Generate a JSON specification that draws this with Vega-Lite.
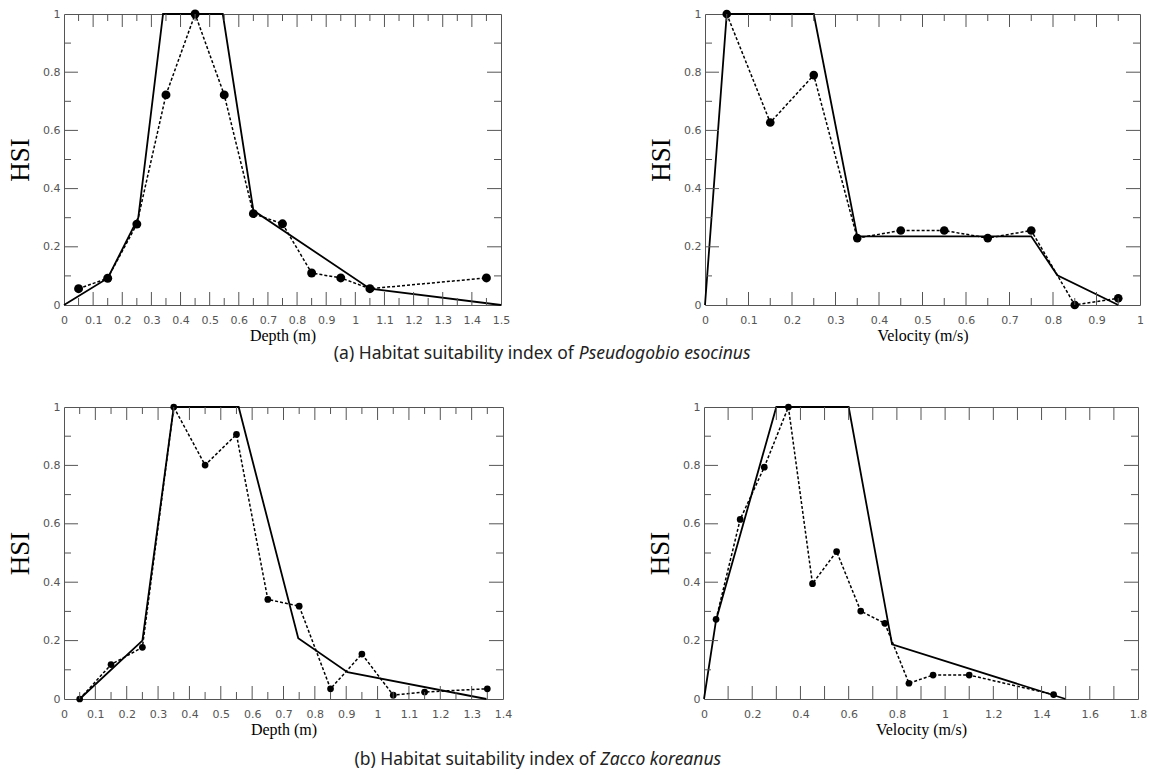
{
  "$schema": "https://vega.github.io/schema/vega-lite/v6.json",
  "background": "white",
  "padding": {"left": 6, "top": 7, "right": 0, "bottom": 0},
  "config": {
    "view": {"stroke": "#555", "strokeWidth": 1},
    "axis": {
      "domain": false, "grid": false, "ticks": false,
      "labelFont": "DejaVu Sans", "labelFontSize": 11, "labelColor": "#555",
      "labelOverlap": false, "labelFlush": false,
      "titleFont": "Liberation Serif", "titleFontWeight": "normal", "titleColor": "black"
    },
    "rule": {"color": "#555", "strokeWidth": 1}
  },
  "datasets": {
    "p1_obs": [
      {"x": 0.05, "hsi": 0.056}, {"x": 0.15, "hsi": 0.092}, {"x": 0.25, "hsi": 0.278}, {"x": 0.35, "hsi": 0.722},
      {"x": 0.45, "hsi": 1.0}, {"x": 0.55, "hsi": 0.722}, {"x": 0.65, "hsi": 0.314}, {"x": 0.75, "hsi": 0.279},
      {"x": 0.85, "hsi": 0.11}, {"x": 0.95, "hsi": 0.093}, {"x": 1.05, "hsi": 0.056}, {"x": 1.45, "hsi": 0.093}
    ],
    "p1_curve": [
      {"x": 0, "hsi": 0}, {"x": 0.15, "hsi": 0.092}, {"x": 0.255, "hsi": 0.3}, {"x": 0.34, "hsi": 1},
      {"x": 0.545, "hsi": 1}, {"x": 0.65, "hsi": 0.325}, {"x": 1.05, "hsi": 0.056}, {"x": 1.5, "hsi": 0}
    ],
    "p2_obs": [
      {"x": 0.05, "hsi": 1.0}, {"x": 0.15, "hsi": 0.627}, {"x": 0.25, "hsi": 0.79}, {"x": 0.35, "hsi": 0.23},
      {"x": 0.45, "hsi": 0.256}, {"x": 0.55, "hsi": 0.256}, {"x": 0.65, "hsi": 0.23}, {"x": 0.75, "hsi": 0.256},
      {"x": 0.85, "hsi": 0.0}, {"x": 0.95, "hsi": 0.023}
    ],
    "p2_curve": [
      {"x": 0, "hsi": 0}, {"x": 0.05, "hsi": 1}, {"x": 0.25, "hsi": 1}, {"x": 0.35, "hsi": 0.236},
      {"x": 0.75, "hsi": 0.236}, {"x": 0.81, "hsi": 0.102}, {"x": 0.95, "hsi": 0}
    ],
    "p3_obs": [
      {"x": 0.05, "hsi": 0.0}, {"x": 0.15, "hsi": 0.118}, {"x": 0.25, "hsi": 0.177}, {"x": 0.35, "hsi": 1.0},
      {"x": 0.45, "hsi": 0.801}, {"x": 0.55, "hsi": 0.906}, {"x": 0.65, "hsi": 0.341}, {"x": 0.75, "hsi": 0.318},
      {"x": 0.85, "hsi": 0.035}, {"x": 0.95, "hsi": 0.154}, {"x": 1.05, "hsi": 0.013}, {"x": 1.15, "hsi": 0.024},
      {"x": 1.35, "hsi": 0.035}
    ],
    "p3_curve": [
      {"x": 0.05, "hsi": 0}, {"x": 0.25, "hsi": 0.2}, {"x": 0.35, "hsi": 1}, {"x": 0.557, "hsi": 1},
      {"x": 0.747, "hsi": 0.208}, {"x": 0.904, "hsi": 0.092}, {"x": 1.347, "hsi": 0}
    ],
    "p4_obs": [
      {"x": 0.05, "hsi": 0.273}, {"x": 0.15, "hsi": 0.615}, {"x": 0.25, "hsi": 0.794}, {"x": 0.35, "hsi": 1.0},
      {"x": 0.45, "hsi": 0.395}, {"x": 0.55, "hsi": 0.505}, {"x": 0.65, "hsi": 0.301}, {"x": 0.75, "hsi": 0.259},
      {"x": 0.85, "hsi": 0.054}, {"x": 0.95, "hsi": 0.082}, {"x": 1.1, "hsi": 0.082}, {"x": 1.45, "hsi": 0.015}
    ],
    "p4_curve": [
      {"x": 0, "hsi": 0}, {"x": 0.05, "hsi": 0.27}, {"x": 0.3, "hsi": 1}, {"x": 0.6, "hsi": 1},
      {"x": 0.78, "hsi": 0.187}, {"x": 1.5, "hsi": 0}
    ],
    "y_major": [{"v": 0.2}, {"v": 0.4}, {"v": 0.6}, {"v": 0.8}],
    "y_minor": [{"v": 0.1}, {"v": 0.3}, {"v": 0.5}, {"v": 0.7}, {"v": 0.9}],
    "x15_major": [{"v": 0.1}, {"v": 0.2}, {"v": 0.3}, {"v": 0.4}, {"v": 0.5}, {"v": 0.6}, {"v": 0.7}, {"v": 0.8}, {"v": 0.9}, {"v": 1}, {"v": 1.1}, {"v": 1.2}, {"v": 1.3}, {"v": 1.4}],
    "x15_minor": [{"v": 0.05}, {"v": 0.15}, {"v": 0.25}, {"v": 0.35}, {"v": 0.45}, {"v": 0.55}, {"v": 0.65}, {"v": 0.75}, {"v": 0.85}, {"v": 0.95}, {"v": 1.05}, {"v": 1.15}, {"v": 1.25}, {"v": 1.35}, {"v": 1.45}],
    "x10_major": [{"v": 0.1}, {"v": 0.2}, {"v": 0.3}, {"v": 0.4}, {"v": 0.5}, {"v": 0.6}, {"v": 0.7}, {"v": 0.8}, {"v": 0.9}],
    "x10_minor": [{"v": 0.05}, {"v": 0.15}, {"v": 0.25}, {"v": 0.35}, {"v": 0.45}, {"v": 0.55}, {"v": 0.65}, {"v": 0.75}, {"v": 0.85}, {"v": 0.95}],
    "x14_major": [{"v": 0.1}, {"v": 0.2}, {"v": 0.3}, {"v": 0.4}, {"v": 0.5}, {"v": 0.6}, {"v": 0.7}, {"v": 0.8}, {"v": 0.9}, {"v": 1}, {"v": 1.1}, {"v": 1.2}, {"v": 1.3}],
    "x14_minor": [{"v": 0.05}, {"v": 0.15}, {"v": 0.25}, {"v": 0.35}, {"v": 0.45}, {"v": 0.55}, {"v": 0.65}, {"v": 0.75}, {"v": 0.85}, {"v": 0.95}, {"v": 1.05}, {"v": 1.15}, {"v": 1.25}, {"v": 1.35}],
    "x18_major": [{"v": 0.1}, {"v": 0.2}, {"v": 0.3}, {"v": 0.4}, {"v": 0.5}, {"v": 0.6}, {"v": 0.7}, {"v": 0.8}, {"v": 0.9}, {"v": 1}, {"v": 1.1}, {"v": 1.2}, {"v": 1.3}, {"v": 1.4}, {"v": 1.5}, {"v": 1.6}, {"v": 1.7}],
    "cap_a": [{"label": "(a) Habitat suitability index of", "species": "Pseudogobio esocinus"}],
    "cap_b": [{"label": "(b) Habitat suitability index of", "species": "Zacco koreanus"}]
  },
  "spacing": 36,
  "vconcat": [
    {
      "spacing": 0,
      "vconcat": [
        {
          "spacing": 136,
          "hconcat": [
            {
              "width": 437, "height": 291,
              "layer": [
                {"data": {"name": "p1_curve"}, "mark": {"type": "line", "color": "black", "strokeWidth": 1.8},
                 "encoding": {
                   "x": {"field": "x", "type": "quantitative", "scale": {"domain": [0, 1.5], "nice": false, "zero": false},
                     "axis": {"values": [0,0.1,0.2,0.3,0.4,0.5,0.6,0.7,0.8,0.9,1,1.1,1.2,1.3,1.4,1.5], "format": "~g", "labelPadding": 9, "labelOverlap": false, "title": "Depth (m)", "titleFontSize": 16, "titlePadding": 2}},
                   "y": {"field": "hsi", "type": "quantitative", "scale": {"domain": [0, 1], "nice": false},
                     "axis": {"values": [0,0.2,0.4,0.6,0.8,1], "format": "~g", "labelPadding": 4, "labelOverlap": false, "title": "HSI", "titleFontSize": 27, "titlePadding": 8}}}},
                {"data": {"name": "p1_obs"}, "mark": {"type": "line", "color": "black", "strokeWidth": 1.5, "strokeDash": [3, 2]},
                 "encoding": {
                   "x": {"field": "x", "type": "quantitative", "axis": {"values": [0,0.1,0.2,0.3,0.4,0.5,0.6,0.7,0.8,0.9,1,1.1,1.2,1.3,1.4,1.5], "format": "~g", "labelPadding": 9, "labelOverlap": false, "title": "Depth (m)", "titleFontSize": 16, "titlePadding": 2}},
                   "y": {"field": "hsi", "type": "quantitative", "axis": {"values": [0,0.2,0.4,0.6,0.8,1], "format": "~g", "labelPadding": 4, "labelOverlap": false, "title": "HSI", "titleFontSize": 27, "titlePadding": 8}}}},
                {"data": {"name": "p1_obs"}, "mark": {"type": "circle", "color": "black", "opacity": 1, "size": 80},
                 "encoding": {
                   "x": {"field": "x", "type": "quantitative", "axis": {"values": [0,0.1,0.2,0.3,0.4,0.5,0.6,0.7,0.8,0.9,1,1.1,1.2,1.3,1.4,1.5], "format": "~g", "labelPadding": 9, "labelOverlap": false, "title": "Depth (m)", "titleFontSize": 16, "titlePadding": 2}},
                   "y": {"field": "hsi", "type": "quantitative", "axis": {"values": [0,0.2,0.4,0.6,0.8,1], "format": "~g", "labelPadding": 4, "labelOverlap": false, "title": "HSI", "titleFontSize": 27, "titlePadding": 8}}}},
                {"data": {"name": "x15_major"}, "mark": {"type": "rule"},
                 "encoding": {"x": {"field": "v", "type": "quantitative", "axis": {"values": [0,0.1,0.2,0.3,0.4,0.5,0.6,0.7,0.8,0.9,1,1.1,1.2,1.3,1.4,1.5], "format": "~g", "labelPadding": 9, "labelOverlap": false, "title": "Depth (m)", "titleFontSize": 16, "titlePadding": 2}},
                   "y": {"datum": 0, "axis": {"values": [0,0.2,0.4,0.6,0.8,1], "format": "~g", "labelPadding": 4, "labelOverlap": false, "title": "HSI", "titleFontSize": 27, "titlePadding": 8}}, "y2": {"datum": 0.0447}}},
                {"data": {"name": "x15_major"}, "mark": {"type": "rule"},
                 "encoding": {"x": {"field": "v", "type": "quantitative", "axis": {"values": [0,0.1,0.2,0.3,0.4,0.5,0.6,0.7,0.8,0.9,1,1.1,1.2,1.3,1.4,1.5], "format": "~g", "labelPadding": 9, "labelOverlap": false, "title": "Depth (m)", "titleFontSize": 16, "titlePadding": 2}},
                   "y": {"datum": 1, "axis": {"values": [0,0.2,0.4,0.6,0.8,1], "format": "~g", "labelPadding": 4, "labelOverlap": false, "title": "HSI", "titleFontSize": 27, "titlePadding": 8}}, "y2": {"datum": 0.9553}}},
                {"data": {"name": "x15_minor"}, "mark": {"type": "rule"},
                 "encoding": {"x": {"field": "v", "type": "quantitative", "axis": {"values": [0,0.1,0.2,0.3,0.4,0.5,0.6,0.7,0.8,0.9,1,1.1,1.2,1.3,1.4,1.5], "format": "~g", "labelPadding": 9, "labelOverlap": false, "title": "Depth (m)", "titleFontSize": 16, "titlePadding": 2}},
                   "y": {"datum": 0, "axis": {"values": [0,0.2,0.4,0.6,0.8,1], "format": "~g", "labelPadding": 4, "labelOverlap": false, "title": "HSI", "titleFontSize": 27, "titlePadding": 8}}, "y2": {"datum": 0.0241}}},
                {"data": {"name": "x15_minor"}, "mark": {"type": "rule"},
                 "encoding": {"x": {"field": "v", "type": "quantitative", "axis": {"values": [0,0.1,0.2,0.3,0.4,0.5,0.6,0.7,0.8,0.9,1,1.1,1.2,1.3,1.4,1.5], "format": "~g", "labelPadding": 9, "labelOverlap": false, "title": "Depth (m)", "titleFontSize": 16, "titlePadding": 2}},
                   "y": {"datum": 1, "axis": {"values": [0,0.2,0.4,0.6,0.8,1], "format": "~g", "labelPadding": 4, "labelOverlap": false, "title": "HSI", "titleFontSize": 27, "titlePadding": 8}}, "y2": {"datum": 0.9759}}},
                {"data": {"name": "y_major"}, "mark": {"type": "rule"},
                 "encoding": {"y": {"field": "v", "type": "quantitative", "axis": {"values": [0,0.2,0.4,0.6,0.8,1], "format": "~g", "labelPadding": 4, "labelOverlap": false, "title": "HSI", "titleFontSize": 27, "titlePadding": 8}},
                   "x": {"datum": 0, "axis": {"values": [0,0.1,0.2,0.3,0.4,0.5,0.6,0.7,0.8,0.9,1,1.1,1.2,1.3,1.4,1.5], "format": "~g", "labelPadding": 9, "labelOverlap": false, "title": "Depth (m)", "titleFontSize": 16, "titlePadding": 2}}, "x2": {"datum": 0.048}}},
                {"data": {"name": "y_major"}, "mark": {"type": "rule"},
                 "encoding": {"y": {"field": "v", "type": "quantitative", "axis": {"values": [0,0.2,0.4,0.6,0.8,1], "format": "~g", "labelPadding": 4, "labelOverlap": false, "title": "HSI", "titleFontSize": 27, "titlePadding": 8}},
                   "x": {"datum": 1.5, "axis": {"values": [0,0.1,0.2,0.3,0.4,0.5,0.6,0.7,0.8,0.9,1,1.1,1.2,1.3,1.4,1.5], "format": "~g", "labelPadding": 9, "labelOverlap": false, "title": "Depth (m)", "titleFontSize": 16, "titlePadding": 2}}, "x2": {"datum": 1.452}}},
                {"data": {"name": "y_minor"}, "mark": {"type": "rule"},
                 "encoding": {"y": {"field": "v", "type": "quantitative", "axis": {"values": [0,0.2,0.4,0.6,0.8,1], "format": "~g", "labelPadding": 4, "labelOverlap": false, "title": "HSI", "titleFontSize": 27, "titlePadding": 8}},
                   "x": {"datum": 0, "axis": {"values": [0,0.1,0.2,0.3,0.4,0.5,0.6,0.7,0.8,0.9,1,1.1,1.2,1.3,1.4,1.5], "format": "~g", "labelPadding": 9, "labelOverlap": false, "title": "Depth (m)", "titleFontSize": 16, "titlePadding": 2}}, "x2": {"datum": 0.024}}},
                {"data": {"name": "y_minor"}, "mark": {"type": "rule"},
                 "encoding": {"y": {"field": "v", "type": "quantitative", "axis": {"values": [0,0.2,0.4,0.6,0.8,1], "format": "~g", "labelPadding": 4, "labelOverlap": false, "title": "HSI", "titleFontSize": 27, "titlePadding": 8}},
                   "x": {"datum": 1.5, "axis": {"values": [0,0.1,0.2,0.3,0.4,0.5,0.6,0.7,0.8,0.9,1,1.1,1.2,1.3,1.4,1.5], "format": "~g", "labelPadding": 9, "labelOverlap": false, "title": "Depth (m)", "titleFontSize": 16, "titlePadding": 2}}, "x2": {"datum": 1.476}}}
              ]
            },
            {
              "width": 435, "height": 291,
              "layer": [
                {"data": {"name": "p2_curve"}, "mark": {"type": "line", "color": "black", "strokeWidth": 1.8},
                 "encoding": {
                   "x": {"field": "x", "type": "quantitative", "scale": {"domain": [0, 1], "nice": false, "zero": false},
                     "axis": {"values": [0,0.1,0.2,0.3,0.4,0.5,0.6,0.7,0.8,0.9,1], "format": "~g", "labelPadding": 9, "labelOverlap": false, "title": "Velocity (m/s)", "titleFontSize": 16, "titlePadding": 2}},
                   "y": {"field": "hsi", "type": "quantitative", "scale": {"domain": [0, 1], "nice": false},
                     "axis": {"values": [0,0.2,0.4,0.6,0.8,1], "format": "~g", "labelPadding": 4, "labelOverlap": false, "title": "HSI", "titleFontSize": 27, "titlePadding": 8}}}},
                {"data": {"name": "p2_obs"}, "mark": {"type": "line", "color": "black", "strokeWidth": 1.5, "strokeDash": [3, 2]},
                 "encoding": {
                   "x": {"field": "x", "type": "quantitative", "axis": {"values": [0,0.1,0.2,0.3,0.4,0.5,0.6,0.7,0.8,0.9,1], "format": "~g", "labelPadding": 9, "labelOverlap": false, "title": "Velocity (m/s)", "titleFontSize": 16, "titlePadding": 2}},
                   "y": {"field": "hsi", "type": "quantitative", "axis": {"values": [0,0.2,0.4,0.6,0.8,1], "format": "~g", "labelPadding": 4, "labelOverlap": false, "title": "HSI", "titleFontSize": 27, "titlePadding": 8}}}},
                {"data": {"name": "p2_obs"}, "mark": {"type": "circle", "color": "black", "opacity": 1, "size": 75},
                 "encoding": {
                   "x": {"field": "x", "type": "quantitative", "axis": {"values": [0,0.1,0.2,0.3,0.4,0.5,0.6,0.7,0.8,0.9,1], "format": "~g", "labelPadding": 9, "labelOverlap": false, "title": "Velocity (m/s)", "titleFontSize": 16, "titlePadding": 2}},
                   "y": {"field": "hsi", "type": "quantitative", "axis": {"values": [0,0.2,0.4,0.6,0.8,1], "format": "~g", "labelPadding": 4, "labelOverlap": false, "title": "HSI", "titleFontSize": 27, "titlePadding": 8}}}},
                {"data": {"name": "x10_major"}, "mark": {"type": "rule"},
                 "encoding": {"x": {"field": "v", "type": "quantitative", "axis": {"values": [0,0.1,0.2,0.3,0.4,0.5,0.6,0.7,0.8,0.9,1], "format": "~g", "labelPadding": 9, "labelOverlap": false, "title": "Velocity (m/s)", "titleFontSize": 16, "titlePadding": 2}},
                   "y": {"datum": 0, "axis": {"values": [0,0.2,0.4,0.6,0.8,1], "format": "~g", "labelPadding": 4, "labelOverlap": false, "title": "HSI", "titleFontSize": 27, "titlePadding": 8}}, "y2": {"datum": 0.0447}}},
                {"data": {"name": "x10_major"}, "mark": {"type": "rule"},
                 "encoding": {"x": {"field": "v", "type": "quantitative", "axis": {"values": [0,0.1,0.2,0.3,0.4,0.5,0.6,0.7,0.8,0.9,1], "format": "~g", "labelPadding": 9, "labelOverlap": false, "title": "Velocity (m/s)", "titleFontSize": 16, "titlePadding": 2}},
                   "y": {"datum": 1, "axis": {"values": [0,0.2,0.4,0.6,0.8,1], "format": "~g", "labelPadding": 4, "labelOverlap": false, "title": "HSI", "titleFontSize": 27, "titlePadding": 8}}, "y2": {"datum": 0.9553}}},
                {"data": {"name": "x10_minor"}, "mark": {"type": "rule"},
                 "encoding": {"x": {"field": "v", "type": "quantitative", "axis": {"values": [0,0.1,0.2,0.3,0.4,0.5,0.6,0.7,0.8,0.9,1], "format": "~g", "labelPadding": 9, "labelOverlap": false, "title": "Velocity (m/s)", "titleFontSize": 16, "titlePadding": 2}},
                   "y": {"datum": 0, "axis": {"values": [0,0.2,0.4,0.6,0.8,1], "format": "~g", "labelPadding": 4, "labelOverlap": false, "title": "HSI", "titleFontSize": 27, "titlePadding": 8}}, "y2": {"datum": 0.0241}}},
                {"data": {"name": "x10_minor"}, "mark": {"type": "rule"},
                 "encoding": {"x": {"field": "v", "type": "quantitative", "axis": {"values": [0,0.1,0.2,0.3,0.4,0.5,0.6,0.7,0.8,0.9,1], "format": "~g", "labelPadding": 9, "labelOverlap": false, "title": "Velocity (m/s)", "titleFontSize": 16, "titlePadding": 2}},
                   "y": {"datum": 1, "axis": {"values": [0,0.2,0.4,0.6,0.8,1], "format": "~g", "labelPadding": 4, "labelOverlap": false, "title": "HSI", "titleFontSize": 27, "titlePadding": 8}}, "y2": {"datum": 0.9759}}},
                {"data": {"name": "y_major"}, "mark": {"type": "rule"},
                 "encoding": {"y": {"field": "v", "type": "quantitative", "axis": {"values": [0,0.2,0.4,0.6,0.8,1], "format": "~g", "labelPadding": 4, "labelOverlap": false, "title": "HSI", "titleFontSize": 27, "titlePadding": 8}},
                   "x": {"datum": 0, "axis": {"values": [0,0.1,0.2,0.3,0.4,0.5,0.6,0.7,0.8,0.9,1], "format": "~g", "labelPadding": 9, "labelOverlap": false, "title": "Velocity (m/s)", "titleFontSize": 16, "titlePadding": 2}}, "x2": {"datum": 0.0322}}},
                {"data": {"name": "y_major"}, "mark": {"type": "rule"},
                 "encoding": {"y": {"field": "v", "type": "quantitative", "axis": {"values": [0,0.2,0.4,0.6,0.8,1], "format": "~g", "labelPadding": 4, "labelOverlap": false, "title": "HSI", "titleFontSize": 27, "titlePadding": 8}},
                   "x": {"datum": 1, "axis": {"values": [0,0.1,0.2,0.3,0.4,0.5,0.6,0.7,0.8,0.9,1], "format": "~g", "labelPadding": 9, "labelOverlap": false, "title": "Velocity (m/s)", "titleFontSize": 16, "titlePadding": 2}}, "x2": {"datum": 0.9678}}},
                {"data": {"name": "y_minor"}, "mark": {"type": "rule"},
                 "encoding": {"y": {"field": "v", "type": "quantitative", "axis": {"values": [0,0.2,0.4,0.6,0.8,1], "format": "~g", "labelPadding": 4, "labelOverlap": false, "title": "HSI", "titleFontSize": 27, "titlePadding": 8}},
                   "x": {"datum": 0, "axis": {"values": [0,0.1,0.2,0.3,0.4,0.5,0.6,0.7,0.8,0.9,1], "format": "~g", "labelPadding": 9, "labelOverlap": false, "title": "Velocity (m/s)", "titleFontSize": 16, "titlePadding": 2}}, "x2": {"datum": 0.0161}}},
                {"data": {"name": "y_minor"}, "mark": {"type": "rule"},
                 "encoding": {"y": {"field": "v", "type": "quantitative", "axis": {"values": [0,0.2,0.4,0.6,0.8,1], "format": "~g", "labelPadding": 4, "labelOverlap": false, "title": "HSI", "titleFontSize": 27, "titlePadding": 8}},
                   "x": {"datum": 1, "axis": {"values": [0,0.1,0.2,0.3,0.4,0.5,0.6,0.7,0.8,0.9,1], "format": "~g", "labelPadding": 9, "labelOverlap": false, "title": "Velocity (m/s)", "titleFontSize": 16, "titlePadding": 2}}, "x2": {"datum": 0.9839}}}
              ]
            }
          ]
        },
        {
          "width": 1080, "height": 20,
          "view": {"stroke": null},
          "data": {"name": "cap_a"},
          "layer": [
            {"mark": {"type": "text", "align": "right", "baseline": "middle", "font": "Noto Sans", "fontSize": 17.5, "color": "#222"},
             "encoding": {"text": {"field": "label"}, "x": {"datum": 0.472, "type": "quantitative", "scale": {"domain": [0, 1]}, "axis": null}}},
            {"mark": {"type": "text", "align": "left", "baseline": "middle", "font": "Noto Sans", "fontSize": 17.5, "fontStyle": "italic", "dx": 5, "color": "#222"},
             "encoding": {"text": {"field": "species"}, "x": {"datum": 0.472, "type": "quantitative", "axis": null}}}
          ]
        }
      ]
    },
    {
      "spacing": 0,
      "vconcat": [
        {
          "spacing": 133,
          "hconcat": [
            {
              "width": 439, "height": 292,
              "layer": [
                {"data": {"name": "p3_curve"}, "mark": {"type": "line", "color": "black", "strokeWidth": 1.8},
                 "encoding": {
                   "x": {"field": "x", "type": "quantitative", "scale": {"domain": [0, 1.4], "nice": false, "zero": false},
                     "axis": {"values": [0,0.1,0.2,0.3,0.4,0.5,0.6,0.7,0.8,0.9,1,1.1,1.2,1.3,1.4], "format": "~g", "labelPadding": 9, "labelOverlap": false, "title": "Depth (m)", "titleFontSize": 16, "titlePadding": 2}},
                   "y": {"field": "hsi", "type": "quantitative", "scale": {"domain": [0, 1], "nice": false},
                     "axis": {"values": [0,0.2,0.4,0.6,0.8,1], "format": "~g", "labelPadding": 4, "labelOverlap": false, "title": "HSI", "titleFontSize": 27, "titlePadding": 8}}}},
                {"data": {"name": "p3_obs"}, "mark": {"type": "line", "color": "black", "strokeWidth": 1.5, "strokeDash": [3, 2]},
                 "encoding": {
                   "x": {"field": "x", "type": "quantitative", "axis": {"values": [0,0.1,0.2,0.3,0.4,0.5,0.6,0.7,0.8,0.9,1,1.1,1.2,1.3,1.4], "format": "~g", "labelPadding": 9, "labelOverlap": false, "title": "Depth (m)", "titleFontSize": 16, "titlePadding": 2}},
                   "y": {"field": "hsi", "type": "quantitative", "axis": {"values": [0,0.2,0.4,0.6,0.8,1], "format": "~g", "labelPadding": 4, "labelOverlap": false, "title": "HSI", "titleFontSize": 27, "titlePadding": 8}}}},
                {"data": {"name": "p3_obs"}, "mark": {"type": "circle", "color": "black", "opacity": 1, "size": 45},
                 "encoding": {
                   "x": {"field": "x", "type": "quantitative", "axis": {"values": [0,0.1,0.2,0.3,0.4,0.5,0.6,0.7,0.8,0.9,1,1.1,1.2,1.3,1.4], "format": "~g", "labelPadding": 9, "labelOverlap": false, "title": "Depth (m)", "titleFontSize": 16, "titlePadding": 2}},
                   "y": {"field": "hsi", "type": "quantitative", "axis": {"values": [0,0.2,0.4,0.6,0.8,1], "format": "~g", "labelPadding": 4, "labelOverlap": false, "title": "HSI", "titleFontSize": 27, "titlePadding": 8}}}},
                {"data": {"name": "x14_major"}, "mark": {"type": "rule"},
                 "encoding": {"x": {"field": "v", "type": "quantitative", "axis": {"values": [0,0.1,0.2,0.3,0.4,0.5,0.6,0.7,0.8,0.9,1,1.1,1.2,1.3,1.4], "format": "~g", "labelPadding": 9, "labelOverlap": false, "title": "Depth (m)", "titleFontSize": 16, "titlePadding": 2}},
                   "y": {"datum": 0, "axis": {"values": [0,0.2,0.4,0.6,0.8,1], "format": "~g", "labelPadding": 4, "labelOverlap": false, "title": "HSI", "titleFontSize": 27, "titlePadding": 8}}, "y2": {"datum": 0.0445}}},
                {"data": {"name": "x14_major"}, "mark": {"type": "rule"},
                 "encoding": {"x": {"field": "v", "type": "quantitative", "axis": {"values": [0,0.1,0.2,0.3,0.4,0.5,0.6,0.7,0.8,0.9,1,1.1,1.2,1.3,1.4], "format": "~g", "labelPadding": 9, "labelOverlap": false, "title": "Depth (m)", "titleFontSize": 16, "titlePadding": 2}},
                   "y": {"datum": 1, "axis": {"values": [0,0.2,0.4,0.6,0.8,1], "format": "~g", "labelPadding": 4, "labelOverlap": false, "title": "HSI", "titleFontSize": 27, "titlePadding": 8}}, "y2": {"datum": 0.9555}}},
                {"data": {"name": "x14_minor"}, "mark": {"type": "rule"},
                 "encoding": {"x": {"field": "v", "type": "quantitative", "axis": {"values": [0,0.1,0.2,0.3,0.4,0.5,0.6,0.7,0.8,0.9,1,1.1,1.2,1.3,1.4], "format": "~g", "labelPadding": 9, "labelOverlap": false, "title": "Depth (m)", "titleFontSize": 16, "titlePadding": 2}},
                   "y": {"datum": 0, "axis": {"values": [0,0.2,0.4,0.6,0.8,1], "format": "~g", "labelPadding": 4, "labelOverlap": false, "title": "HSI", "titleFontSize": 27, "titlePadding": 8}}, "y2": {"datum": 0.024}}},
                {"data": {"name": "x14_minor"}, "mark": {"type": "rule"},
                 "encoding": {"x": {"field": "v", "type": "quantitative", "axis": {"values": [0,0.1,0.2,0.3,0.4,0.5,0.6,0.7,0.8,0.9,1,1.1,1.2,1.3,1.4], "format": "~g", "labelPadding": 9, "labelOverlap": false, "title": "Depth (m)", "titleFontSize": 16, "titlePadding": 2}},
                   "y": {"datum": 1, "axis": {"values": [0,0.2,0.4,0.6,0.8,1], "format": "~g", "labelPadding": 4, "labelOverlap": false, "title": "HSI", "titleFontSize": 27, "titlePadding": 8}}, "y2": {"datum": 0.976}}},
                {"data": {"name": "y_major"}, "mark": {"type": "rule"},
                 "encoding": {"y": {"field": "v", "type": "quantitative", "axis": {"values": [0,0.2,0.4,0.6,0.8,1], "format": "~g", "labelPadding": 4, "labelOverlap": false, "title": "HSI", "titleFontSize": 27, "titlePadding": 8}},
                   "x": {"datum": 0, "axis": {"values": [0,0.1,0.2,0.3,0.4,0.5,0.6,0.7,0.8,0.9,1,1.1,1.2,1.3,1.4], "format": "~g", "labelPadding": 9, "labelOverlap": false, "title": "Depth (m)", "titleFontSize": 16, "titlePadding": 2}}, "x2": {"datum": 0.0447}}},
                {"data": {"name": "y_major"}, "mark": {"type": "rule"},
                 "encoding": {"y": {"field": "v", "type": "quantitative", "axis": {"values": [0,0.2,0.4,0.6,0.8,1], "format": "~g", "labelPadding": 4, "labelOverlap": false, "title": "HSI", "titleFontSize": 27, "titlePadding": 8}},
                   "x": {"datum": 1.4, "axis": {"values": [0,0.1,0.2,0.3,0.4,0.5,0.6,0.7,0.8,0.9,1,1.1,1.2,1.3,1.4], "format": "~g", "labelPadding": 9, "labelOverlap": false, "title": "Depth (m)", "titleFontSize": 16, "titlePadding": 2}}, "x2": {"datum": 1.3553}}},
                {"data": {"name": "y_minor"}, "mark": {"type": "rule"},
                 "encoding": {"y": {"field": "v", "type": "quantitative", "axis": {"values": [0,0.2,0.4,0.6,0.8,1], "format": "~g", "labelPadding": 4, "labelOverlap": false, "title": "HSI", "titleFontSize": 27, "titlePadding": 8}},
                   "x": {"datum": 0, "axis": {"values": [0,0.1,0.2,0.3,0.4,0.5,0.6,0.7,0.8,0.9,1,1.1,1.2,1.3,1.4], "format": "~g", "labelPadding": 9, "labelOverlap": false, "title": "Depth (m)", "titleFontSize": 16, "titlePadding": 2}}, "x2": {"datum": 0.0223}}},
                {"data": {"name": "y_minor"}, "mark": {"type": "rule"},
                 "encoding": {"y": {"field": "v", "type": "quantitative", "axis": {"values": [0,0.2,0.4,0.6,0.8,1], "format": "~g", "labelPadding": 4, "labelOverlap": false, "title": "HSI", "titleFontSize": 27, "titlePadding": 8}},
                   "x": {"datum": 1.4, "axis": {"values": [0,0.1,0.2,0.3,0.4,0.5,0.6,0.7,0.8,0.9,1,1.1,1.2,1.3,1.4], "format": "~g", "labelPadding": 9, "labelOverlap": false, "title": "Depth (m)", "titleFontSize": 16, "titlePadding": 2}}, "x2": {"datum": 1.3777}}}
              ]
            },
            {
              "width": 434, "height": 292,
              "layer": [
                {"data": {"name": "p4_curve"}, "mark": {"type": "line", "color": "black", "strokeWidth": 1.8},
                 "encoding": {
                   "x": {"field": "x", "type": "quantitative", "scale": {"domain": [0, 1.8], "nice": false, "zero": false},
                     "axis": {"values": [0,0.2,0.4,0.6,0.8,1,1.2,1.4,1.6,1.8], "format": "~g", "labelPadding": 9, "labelOverlap": false, "title": "Velocity (m/s)", "titleFontSize": 16, "titlePadding": 2}},
                   "y": {"field": "hsi", "type": "quantitative", "scale": {"domain": [0, 1], "nice": false},
                     "axis": {"values": [0,0.2,0.4,0.6,0.8,1], "format": "~g", "labelPadding": 4, "labelOverlap": false, "title": "HSI", "titleFontSize": 27, "titlePadding": 8}}}},
                {"data": {"name": "p4_obs"}, "mark": {"type": "line", "color": "black", "strokeWidth": 1.5, "strokeDash": [3, 2]},
                 "encoding": {
                   "x": {"field": "x", "type": "quantitative", "axis": {"values": [0,0.2,0.4,0.6,0.8,1,1.2,1.4,1.6,1.8], "format": "~g", "labelPadding": 9, "labelOverlap": false, "title": "Velocity (m/s)", "titleFontSize": 16, "titlePadding": 2}},
                   "y": {"field": "hsi", "type": "quantitative", "axis": {"values": [0,0.2,0.4,0.6,0.8,1], "format": "~g", "labelPadding": 4, "labelOverlap": false, "title": "HSI", "titleFontSize": 27, "titlePadding": 8}}}},
                {"data": {"name": "p4_obs"}, "mark": {"type": "circle", "color": "black", "opacity": 1, "size": 45},
                 "encoding": {
                   "x": {"field": "x", "type": "quantitative", "axis": {"values": [0,0.2,0.4,0.6,0.8,1,1.2,1.4,1.6,1.8], "format": "~g", "labelPadding": 9, "labelOverlap": false, "title": "Velocity (m/s)", "titleFontSize": 16, "titlePadding": 2}},
                   "y": {"field": "hsi", "type": "quantitative", "axis": {"values": [0,0.2,0.4,0.6,0.8,1], "format": "~g", "labelPadding": 4, "labelOverlap": false, "title": "HSI", "titleFontSize": 27, "titlePadding": 8}}}},
                {"data": {"name": "x18_major"}, "mark": {"type": "rule"},
                 "encoding": {"x": {"field": "v", "type": "quantitative", "axis": {"values": [0,0.2,0.4,0.6,0.8,1,1.2,1.4,1.6,1.8], "format": "~g", "labelPadding": 9, "labelOverlap": false, "title": "Velocity (m/s)", "titleFontSize": 16, "titlePadding": 2}},
                   "y": {"datum": 0, "axis": {"values": [0,0.2,0.4,0.6,0.8,1], "format": "~g", "labelPadding": 4, "labelOverlap": false, "title": "HSI", "titleFontSize": 27, "titlePadding": 8}}, "y2": {"datum": 0.0445}}},
                {"data": {"name": "x18_major"}, "mark": {"type": "rule"},
                 "encoding": {"x": {"field": "v", "type": "quantitative", "axis": {"values": [0,0.2,0.4,0.6,0.8,1,1.2,1.4,1.6,1.8], "format": "~g", "labelPadding": 9, "labelOverlap": false, "title": "Velocity (m/s)", "titleFontSize": 16, "titlePadding": 2}},
                   "y": {"datum": 1, "axis": {"values": [0,0.2,0.4,0.6,0.8,1], "format": "~g", "labelPadding": 4, "labelOverlap": false, "title": "HSI", "titleFontSize": 27, "titlePadding": 8}}, "y2": {"datum": 0.9555}}},
                {"data": {"name": "y_major"}, "mark": {"type": "rule"},
                 "encoding": {"y": {"field": "v", "type": "quantitative", "axis": {"values": [0,0.2,0.4,0.6,0.8,1], "format": "~g", "labelPadding": 4, "labelOverlap": false, "title": "HSI", "titleFontSize": 27, "titlePadding": 8}},
                   "x": {"datum": 0, "axis": {"values": [0,0.2,0.4,0.6,0.8,1,1.2,1.4,1.6,1.8], "format": "~g", "labelPadding": 9, "labelOverlap": false, "title": "Velocity (m/s)", "titleFontSize": 16, "titlePadding": 2}}, "x2": {"datum": 0.058}}},
                {"data": {"name": "y_major"}, "mark": {"type": "rule"},
                 "encoding": {"y": {"field": "v", "type": "quantitative", "axis": {"values": [0,0.2,0.4,0.6,0.8,1], "format": "~g", "labelPadding": 4, "labelOverlap": false, "title": "HSI", "titleFontSize": 27, "titlePadding": 8}},
                   "x": {"datum": 1.8, "axis": {"values": [0,0.2,0.4,0.6,0.8,1,1.2,1.4,1.6,1.8], "format": "~g", "labelPadding": 9, "labelOverlap": false, "title": "Velocity (m/s)", "titleFontSize": 16, "titlePadding": 2}}, "x2": {"datum": 1.742}}},
                {"data": {"name": "y_minor"}, "mark": {"type": "rule"},
                 "encoding": {"y": {"field": "v", "type": "quantitative", "axis": {"values": [0,0.2,0.4,0.6,0.8,1], "format": "~g", "labelPadding": 4, "labelOverlap": false, "title": "HSI", "titleFontSize": 27, "titlePadding": 8}},
                   "x": {"datum": 0, "axis": {"values": [0,0.2,0.4,0.6,0.8,1,1.2,1.4,1.6,1.8], "format": "~g", "labelPadding": 9, "labelOverlap": false, "title": "Velocity (m/s)", "titleFontSize": 16, "titlePadding": 2}}, "x2": {"datum": 0.029}}},
                {"data": {"name": "y_minor"}, "mark": {"type": "rule"},
                 "encoding": {"y": {"field": "v", "type": "quantitative", "axis": {"values": [0,0.2,0.4,0.6,0.8,1], "format": "~g", "labelPadding": 4, "labelOverlap": false, "title": "HSI", "titleFontSize": 27, "titlePadding": 8}},
                   "x": {"datum": 1.8, "axis": {"values": [0,0.2,0.4,0.6,0.8,1,1.2,1.4,1.6,1.8], "format": "~g", "labelPadding": 9, "labelOverlap": false, "title": "Velocity (m/s)", "titleFontSize": 16, "titlePadding": 2}}, "x2": {"datum": 1.771}}}
              ]
            }
          ]
        },
        {
          "width": 1080, "height": 44,
          "view": {"stroke": null},
          "data": {"name": "cap_b"},
          "layer": [
            {"mark": {"type": "text", "align": "right", "baseline": "middle", "font": "Noto Sans", "fontSize": 17.5, "color": "#222"},
             "encoding": {"text": {"field": "label"}, "x": {"datum": 0.492, "type": "quantitative", "scale": {"domain": [0, 1]}, "axis": null}}},
            {"mark": {"type": "text", "align": "left", "baseline": "middle", "font": "Noto Sans", "fontSize": 17.5, "fontStyle": "italic", "dx": 5, "color": "#222"},
             "encoding": {"text": {"field": "species"}, "x": {"datum": 0.492, "type": "quantitative", "axis": null}}}
          ]
        }
      ]
    }
  ]
}
